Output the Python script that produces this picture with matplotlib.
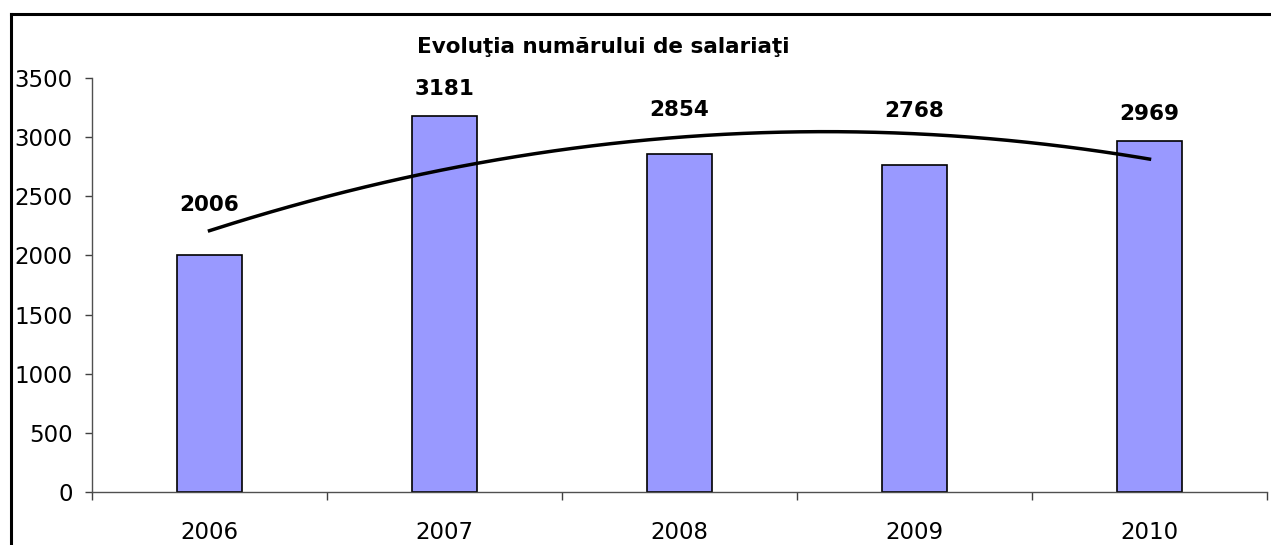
import numpy as np
import matplotlib.pyplot as plt
from matplotlib.lines import Line2D

# data
years = ['2006', '2007', '2008', '2009', '2010']
salariati = [2006, 3181, 2854, 2768, 2969]
label_offset_px = [50, 27, 44, 54, 27]   # label heights above bars, as in the picture

x = np.arange(len(years))

fig = plt.figure(figsize=(12.71, 5.45), dpi=100)
ax = fig.add_axes([92/1271, 1-492/545, (1267-92)/1271, (492-78)/545])

ax.bar(x, salariati, width=0.275, color='#9999FF', edgecolor='black', linewidth=1.2, zorder=2)

# polynomial (order 2) trendline like the Excel one
coef = np.polyfit(x, salariati, 2)
xt = np.linspace(x[0], x[-1], 200)
ax.plot(xt, np.polyval(coef, xt), color='black', lw=2.5, zorder=3)

for i, v in enumerate(salariati):
    ax.annotate(str(v), (x[i], v), textcoords='offset points',
                xytext=(0, label_offset_px[i]*0.72), ha='center', va='center',
                fontsize=15.5, fontweight='bold', family='DejaVu Sans')

ax.set_xlim(-0.5, len(years)-0.5)
ax.set_ylim(0, 3500)
ax.set_yticks(np.arange(0, 3501, 500))
ax.set_xticks(x)
ax.set_xticklabels(years)
ax.set_xticks(np.arange(-0.5, len(years)), minor=True)
ax.tick_params(axis='x', which='major', length=0, pad=21, labelsize=16.5)
ax.tick_params(axis='x', which='minor', length=6, width=1, color='#404040')
ax.tick_params(axis='y', length=5, width=1, pad=9, labelsize=16.5, color='#404040')

for s in ['top', 'right']:
    ax.spines[s].set_visible(False)
for s in ['left', 'bottom']:
    ax.spines[s].set_color('#505050')
    ax.spines[s].set_linewidth(1)

fig.text(603/1271, 1-47/545, 'Evoluţia numărului de salariaţi', ha='center', va='center',
         fontsize=15.5, fontweight='bold', family='DejaVu Sans')

# outer chart border (cut at right and bottom)
fx = 10.5/1271
fy = 1-13.5/545
fig.add_artist(Line2D([fx, fx], [0, fy], transform=fig.transFigure, color='black', lw=2.2))
fig.add_artist(Line2D([fx, 1], [fy, fy], transform=fig.transFigure, color='black', lw=2.2))

plt.savefig('out.png', dpi=100)
